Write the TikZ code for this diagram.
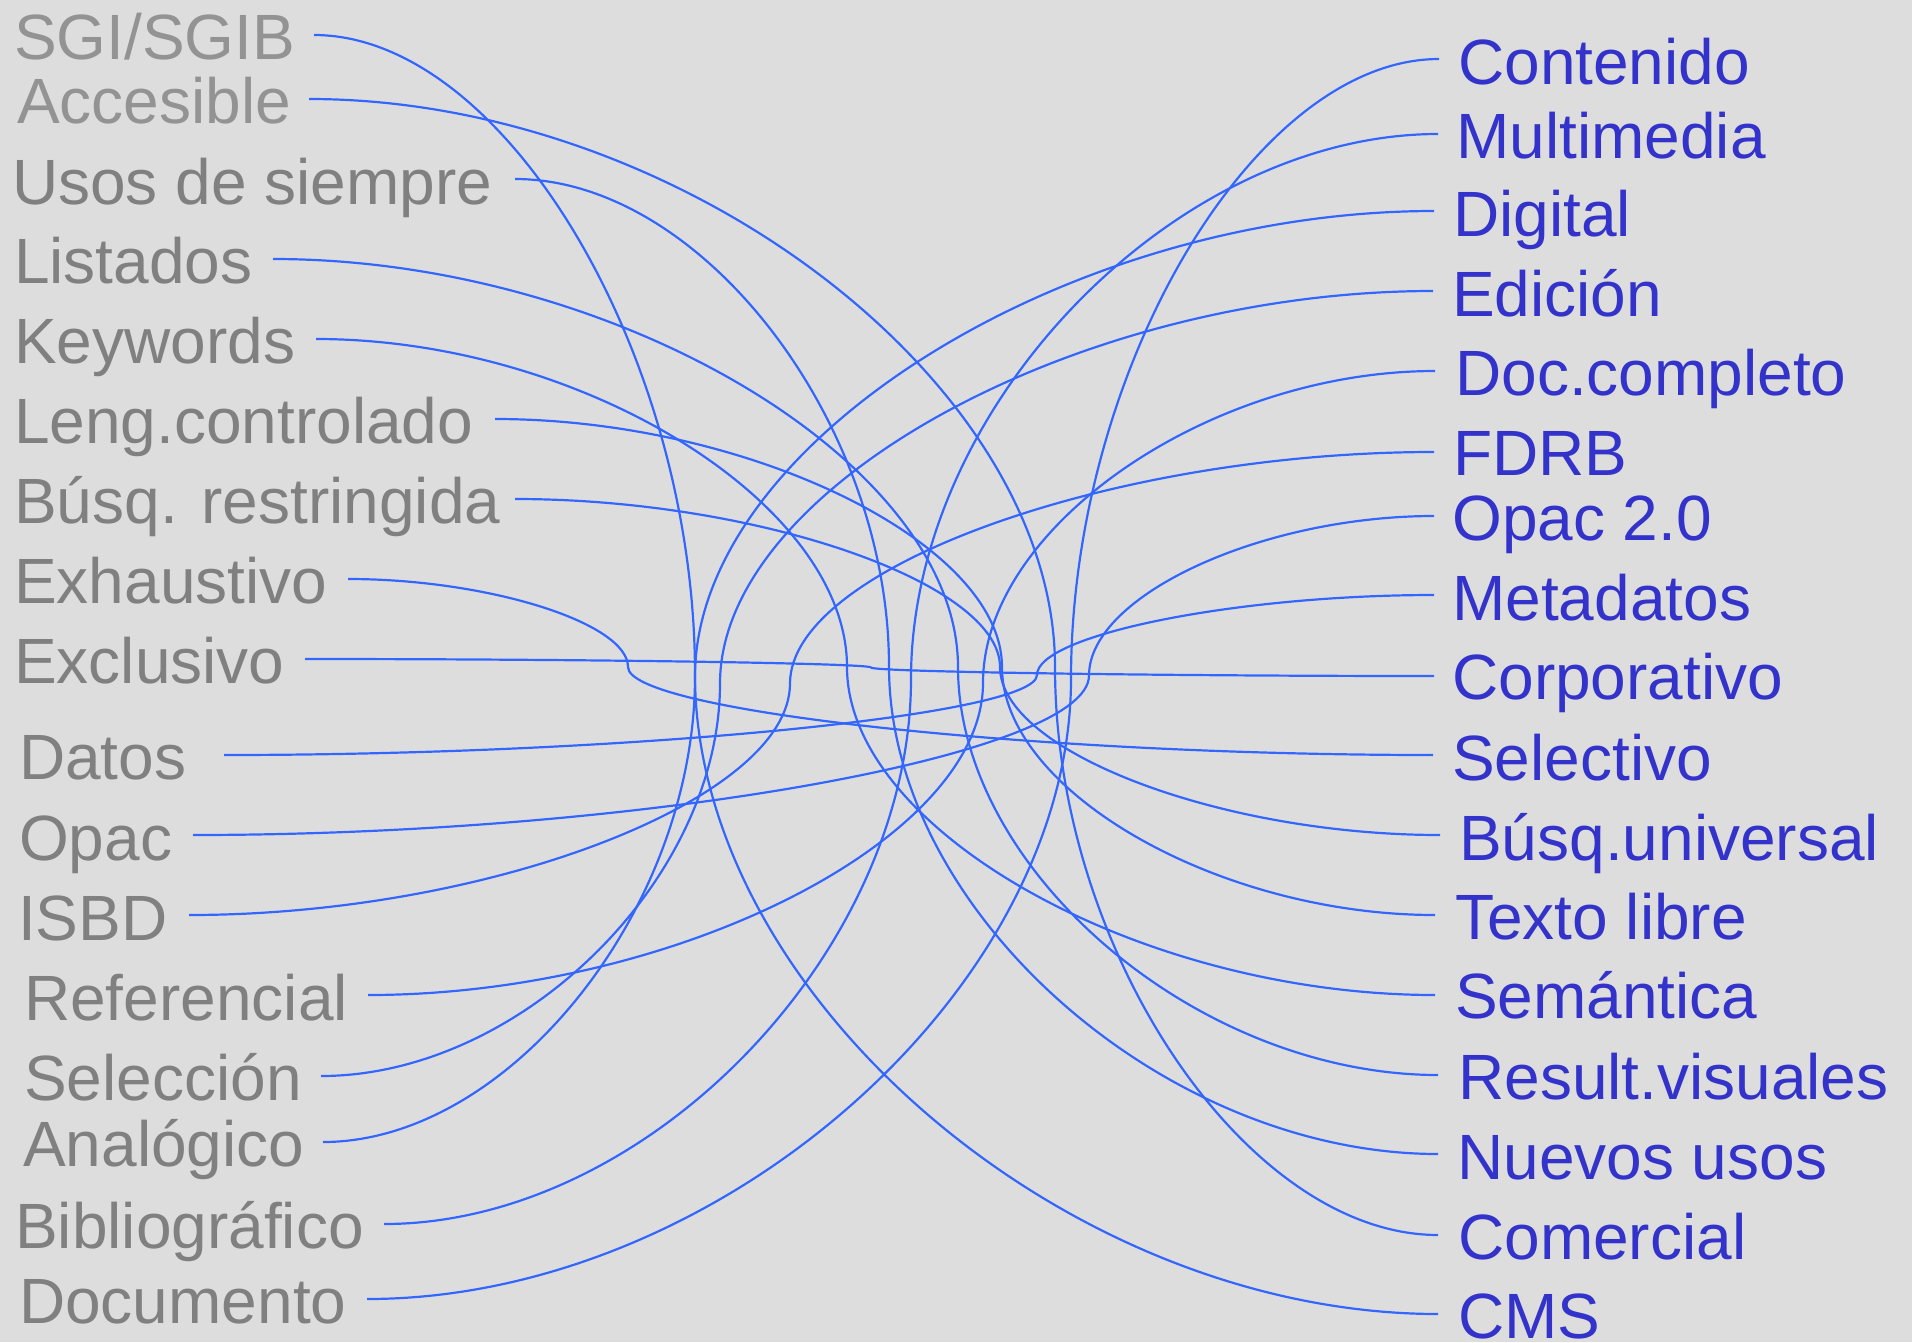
\documentclass[tikz,border=0pt]{standalone}
\usepackage{fontspec}
\setmainfont{Liberation Sans}
\usetikzlibrary{calc}
\definecolor{bgc}{HTML}{DDDDDD}
\definecolor{lgray}{HTML}{808080}
\definecolor{lgrayb}{HTML}{939393}
\definecolor{rblue}{HTML}{3333CC}
\definecolor{lnblue}{HTML}{3366FF}
\newcommand{\curveconn}[3]{%
  \draw[conn] let \p1=(#1), \p2=(#2) in
    (\p1) .. controls ({(\x1+#3pt)/2},\y1) and (#3pt,{\y1+(\y2-\y1)/4})
    .. (#3pt,{(\y1+\y2)/2})
    .. controls (#3pt,{\y1+3*(\y2-\y1)/4}) and ({(#3pt+\x2)/2},\y2) .. (\p2);}
\begin{document}
\begin{tikzpicture}[x=1pt,y=-1pt,
  lab/.style={anchor=base west,inner sep=0pt,font=\fontsize{64}{70}\selectfont},
  lft/.style={lab,text=lgray},
  lftb/.style={lab,text=lgrayb},
  rgt/.style={lab,text=rblue},
  conn/.style={draw=lnblue,line width=2.2pt}]
\useasboundingbox (0,0) rectangle (1912,1342);
\fill[bgc] (0,0) rectangle (1912,1342);
% left labels
\node[lftb] (lSGI)  at (14,59)   {SGI/SGIB};
\node[lftb] (lAcc)  at (17,123)  {Accesible};
\node[lft]  (lUsos) at (12,204)  {Usos de siempre};
\node[lft]  (lList) at (14,283)  {Listados};
\node[lft]  (lKey)  at (14,363)  {Keywords};
\node[lft]  (lLeng) at (14,443)  {Leng.controlado};
\node[lft]  (lBusR) at (14,523)  {Búsq. restringida};
\node[lft]  (lExh)  at (14,603)  {Exhaustivo};
\node[lft]  (lExc)  at (14,683)  {Exclusivo};
\node[lft]  (lDat)  at (19,779)  {Datos};
\node[lft]  (lOpa)  at (19,860)  {Opac};
\node[lft]  (lISBD) at (18,940)  {ISBD};
\node[lft]  (lRef)  at (24,1020) {Referencial};
\node[lft]  (lSelc) at (24,1100) {Selección};
\node[lft]  (lAna)  at (23,1166) {Analógico};
\node[lft]  (lBib)  at (15,1248) {Bibliográfico};
\node[lft]  (lDocu) at (19,1323) {Documento};
% right labels
\node[rgt] (rCon)  at (1458,84)   {Contenido};
\node[rgt] (rMul)  at (1456,158)  {Multimedia};
\node[rgt] (rDig)  at (1453,236)  {Digital};
\node[rgt] (rEdi)  at (1452,316)  {Edición};
\node[rgt] (rDoc)  at (1455,395)  {Doc.completo};
\node[rgt] (rFDRB) at (1453,475)  {FDRB};
\node[rgt] (rOp2)  at (1452,540)  {Opac 2.0};
\node[rgt] (rMet)  at (1452,620)  {Metadatos};
\node[rgt] (rCor)  at (1452,699)  {Corporativo};
\node[rgt] (rSel)  at (1452,780)  {Selectivo};
\node[rgt] (rBusU) at (1459,860)  {Búsq.universal};
\node[rgt] (rTex)  at (1455,939)  {Texto libre};
\node[rgt] (rSem)  at (1455,1018) {Semántica};
\node[rgt] (rRes)  at (1458,1099) {Result.visuales};
\node[rgt] (rNue)  at (1457,1179) {Nuevos usos};
\node[rgt] (rCom)  at (1458,1259) {Comercial};
\node[rgt] (rCMS)  at (1458,1338) {CMS};
% connector end points
\coordinate (pSGI)  at (314,35);
\coordinate (pAcc)  at (309,99);
\coordinate (pUsos) at (515,179);
\coordinate (pList) at (273,259);
\coordinate (pKey)  at (316,339);
\coordinate (pLeng) at (495,419);
\coordinate (pBusR) at (515,499);
\coordinate (pExh)  at (348,579);
\coordinate (pExc)  at (305,659);
\coordinate (pDat)  at (224,755);
\coordinate (pOpa)  at (193,835);
\coordinate (pISBD) at (189,915);
\coordinate (pRef)  at (368,995);
\coordinate (pSelc) at (321,1076);
\coordinate (pAna)  at (323,1142);
\coordinate (pBib)  at (384,1224);
\coordinate (pDocu) at (367,1299);
\coordinate (pCon)  at (1439,59);
\coordinate (pMul)  at (1438,134);
\coordinate (pDig)  at (1434,211);
\coordinate (pEdi)  at (1433,291);
\coordinate (pDoc)  at (1435,371);
\coordinate (pFDRB) at (1434,452);
\coordinate (pOp2)  at (1434,516);
\coordinate (pMet)  at (1434,595);
\coordinate (pCor)  at (1434,676);
\coordinate (pSel)  at (1433,755);
\coordinate (pBusU) at (1440,835);
\coordinate (pTex)  at (1435,915);
\coordinate (pSem)  at (1435,995);
\coordinate (pRes)  at (1438,1075);
\coordinate (pNue)  at (1438,1154);
\coordinate (pCom)  at (1438,1235);
\coordinate (pCMS)  at (1438,1314);
% connectors
\curveconn{pSGI}{pCMS}{695}
\curveconn{pAcc}{pCom}{1055}
\curveconn{pUsos}{pNue}{889}
\curveconn{pList}{pRes}{958}
\curveconn{pKey}{pSem}{847}
\curveconn{pLeng}{pTex}{1002}
\curveconn{pBusR}{pBusU}{1000}
\curveconn{pExh}{pSel}{628}
\curveconn{pExc}{pCor}{871}
\curveconn{pDat}{pMet}{1037}
\curveconn{pOpa}{pOp2}{1089}
\curveconn{pISBD}{pFDRB}{790}
\curveconn{pRef}{pDoc}{983}
\curveconn{pSelc}{pEdi}{720}
\curveconn{pAna}{pDig}{695}
\curveconn{pBib}{pMul}{911}
\curveconn{pDocu}{pCon}{1071}
\end{tikzpicture}
\end{document}
